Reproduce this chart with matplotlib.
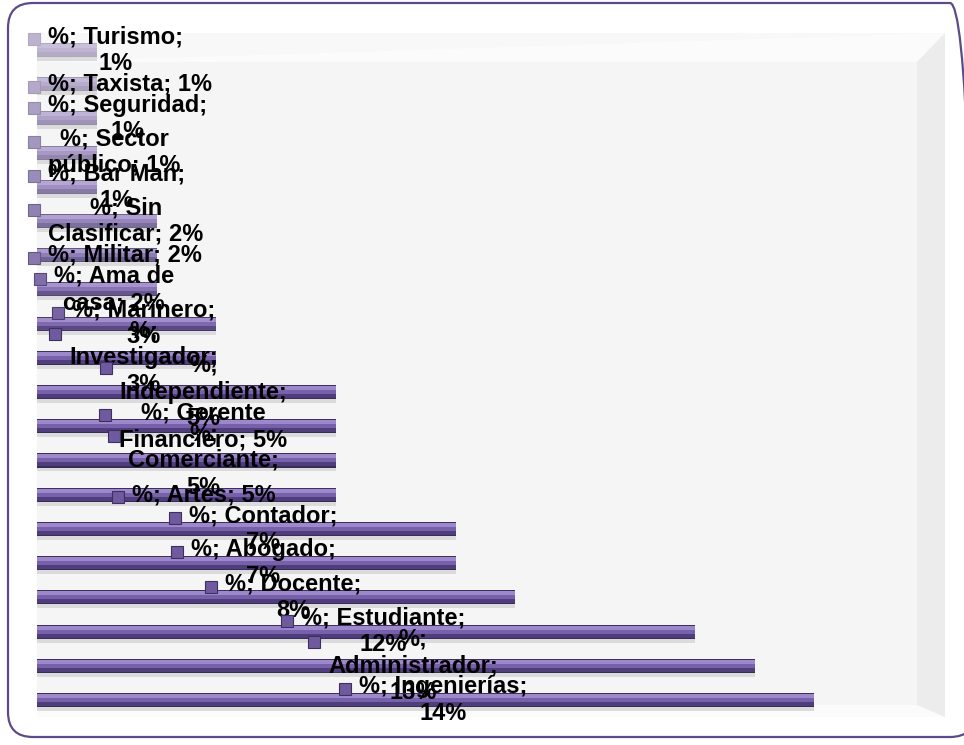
import numpy as np
import matplotlib
matplotlib.use("Agg")
import matplotlib.pyplot as plt
from matplotlib.colors import to_rgb
from matplotlib.patches import Rectangle, Polygon, FancyBboxPatch
from matplotlib.transforms import IdentityTransform

# Occupations, top to bottom, with the counts the bars are drawn from
categories = ['Turismo', 'Taxista', 'Seguridad', 'Sector público', 'Bar Man',
              'Sin Clasificar', 'Militar', 'Ama de casa', 'Marinero',
              'Investigador', 'Independiente', 'Gerente Financiero',
              'Comerciante', 'Artes', 'Contador', 'Abogado', 'Docente',
              'Estudiante', 'Administrador', 'Ingenierías']
counts = [1, 1, 1, 1, 1, 2, 2, 2, 3, 3, 5, 5, 5, 5, 7, 7, 8, 11, 12, 13]

# data labels as Excel wrapped them
labels = ['%; Turismo;\n1%', '%; Taxista; 1%', '%; Seguridad;\n1%',
          '%; Sector\npúblico; 1%', '%; Bar Man;\n1%', '%; Sin\nClasificar; 2%',
          '%; Militar; 2%', '%; Ama de\ncasa; 2%', '%; Marinero;\n3%',
          '%;\nInvestigador;\n3%', '%;\nIndependiente;\n5%',
          '%; Gerente\nFinanciero; 5%', '%;\nComerciante;\n5%', '%; Artes; 5%',
          '%; Contador;\n7%', '%; Abogado;\n7%', '%; Docente;\n8%',
          '%; Estudiante;\n12%', '%;\nAdministrador;\n13%', '%; Ingenierías;\n14%']

W, H = 964, 745
row_px = 34.2
unit_px = 59.8
n = len(categories)
rows = np.arange(n)

fig = plt.figure(figsize=(W / 100, H / 100), dpi=100)
fig.patch.set_facecolor('white')
ax = fig.add_axes([37 / W, 28 / H, 908 / W, 684 / H])
ax.set_xlim(0, 908 / unit_px)
ax.set_ylim(n - 0.5, -0.5)
ax.axis('off')

# bevelled plot-area background
def panel(xy, color):
    ax.add_patch(Polygon(xy, closed=True, transform=ax.transAxes,
                         facecolor=color, edgecolor='none', zorder=0))

rx = 880 / 908
ty = (717 - 62) / 684
by = (717 - 705) / 684
panel([(0, 0), (1, 0), (1, 1), (0, 1)], '#fbfbfb')
panel([(0, ty), (1, 1), (0, 1)], '#f8f8f8')
panel([(rx, by), (1, 0), (1, 1), (rx, ty)], '#ececec')
panel([(0, by), (rx, by), (rx, ty), (0, ty)], '#f5f5f5')

# the top rows are drawn paler, as in the original 3D chart
t = np.clip(rows / 9.0, 0, 1)
pale = np.array(to_rgb('#d6d1df'))

def shade(c):
    base = np.array(to_rgb(c))
    mix = 0.75 * (1 - t)[:, None]
    return base * (1 - mix) + pale * mix

bands = [(14, 4, '#dadada'),   # soft shadow under the bar
         (0, 1, '#3d2f5e'), (1, 4, '#9d88cb'), (5, 4, '#7861ab'),
         (9, 4, '#4f3d7c'), (13, 1, '#3a2c58')]
for off, h, c in bands:
    cols = [(0.86, 0.86, 0.86)] * n if off == 14 else shade(c)
    ax.barh(rows - 7 / row_px + off / row_px, counts, height=h / row_px,
            left=0, align='edge', color=cols, edgecolor='none', zorder=2)

# data labels, centred a little right of the bar middle, kept inside the left edge
texts = []
for i in range(n):
    x = counts[i] / 2 + 17 / unit_px
    texts.append(ax.text(x, i, labels[i], ha='center', va='center',
                         multialignment='center', fontsize=17,
                         fontweight='bold', family='Liberation Sans',
                         color='black', zorder=6))

fig.canvas.draw()
r = fig.canvas.get_renderer()
for tx in texts:
    bb = tx.get_window_extent(r)
    if bb.x0 < 48:
        tx.set_x(tx.get_position()[0] + (48 - bb.x0) / unit_px)

fig.canvas.draw()
key_face = shade('#6f5a9f')
key_edge = shade('#3d2f5e')
for i, tx in enumerate(texts):
    bb = tx.get_window_extent(r)
    kx = bb.x0 - 20
    ky = bb.y1 - 20
    fig.add_artist(Rectangle((kx / W, ky / H), 12 / W, 12 / H,
                             transform=fig.transFigure, facecolor=key_face[i],
                             edgecolor=key_edge[i], lw=0.8, zorder=5))

# rounded chart border
fig.add_artist(FancyBboxPatch((8, H - 737), 967, 734,
                              boxstyle='round,pad=0,rounding_size=25',
                              transform=IdentityTransform(), facecolor='none',
                              edgecolor='#5e4a8a', lw=1.6, zorder=1))

fig.savefig('out.png', dpi=100)
